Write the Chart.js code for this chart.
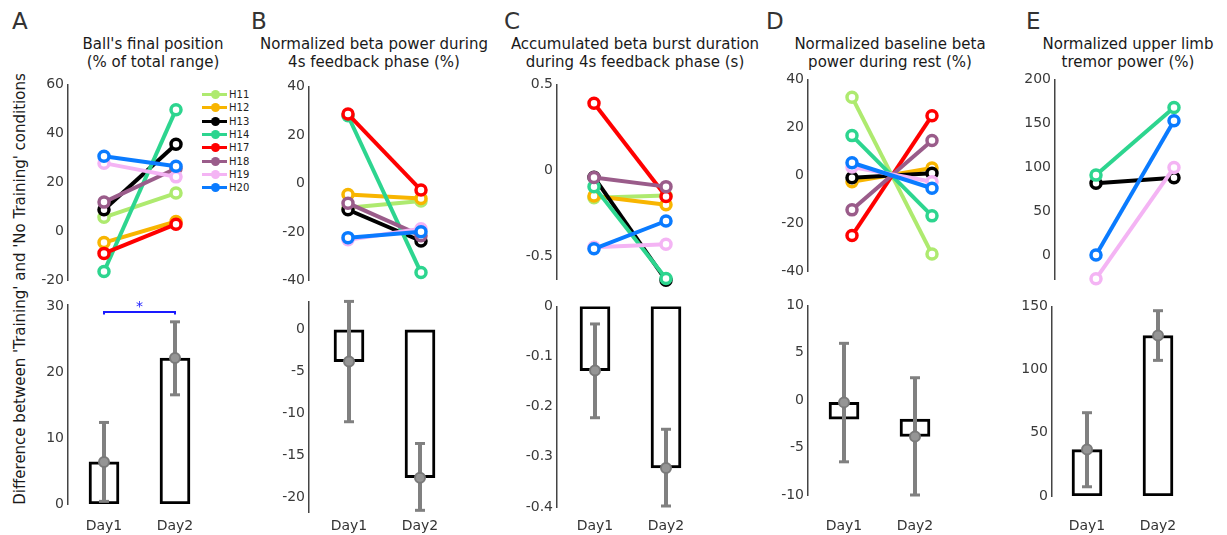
<!DOCTYPE html>
<html>
<head>
<meta charset="utf-8">
<title>Training vs No Training</title>
<script src="https://cdn.jsdelivr.net/npm/chart.js"></script>
<style>
  body { margin: 0; background: #fff; }
  #fig { position: relative; width: 1227px; height: 535px; overflow: hidden; font-family: 'DejaVu Sans', sans-serif; }
  #fig canvas { position: absolute; }
  .letter { position: absolute; font-size: 23px; line-height: 23px; color: #333; }
  .title { position: absolute; width: 300px; margin-left: -150px; text-align: center; white-space: nowrap;
           font-size: 15px; line-height: 18px; color: #1a1a1a; }
  .ylabel { position: absolute; left: 20px; top: 289px; transform: translate(-50%, -50%) rotate(-90deg);
            white-space: nowrap; font-size: 15px; color: #1a1a1a; }
  #legend { position: absolute; left: 202px; top: 88px; font-size: 10px; color: #222; }
  .item { height: 13.3px; display: flex; align-items: center; }
  .swatch { position: relative; width: 25px; height: 3px; margin-right: 2px; }
  .swatch i { position: absolute; left: 9px; top: -3px; width: 9px; height: 9px; border-radius: 50%; }
</style>
</head>
<body>
<div id="fig">
  <div class="letter" style="left:12px;top:10px">A</div>
  <div class="letter" style="left:251px;top:10px">B</div>
  <div class="letter" style="left:504px;top:10px">C</div>
  <div class="letter" style="left:766px;top:10px">D</div>
  <div class="letter" style="left:1026px;top:10px">E</div>

  <div class="title" style="left:153px;top:35px">Ball's final position<br>(% of total range)</div>
  <div class="title" style="left:374px;top:35px">Normalized beta power during<br>4s feedback phase (%)</div>
  <div class="title" style="left:635px;top:35px">Accumulated beta burst duration<br>during 4s feedback phase (s)</div>
  <div class="title" style="left:890px;top:35px">Normalized baseline beta<br>power during rest (%)</div>
  <div class="title" style="left:1128px;top:35px">Normalized upper limb<br>tremor power (%)</div>

  <div class="ylabel">Difference between 'Training' and 'No Training' conditions</div>
  <div id="legend"></div>
</div>

<script>
// subjects and days
const subjects = ['H11', 'H12', 'H13', 'H14', 'H17', 'H18', 'H19', 'H20'];
const subjectColors = ['#aeea6f', '#f8b500', '#000000', '#2dd58f', '#ff0000', '#9a5c8a', '#f4b4f4', '#0a7bff'];
const dayLabels = ['Day1', 'Day2'];

// top row: one value per subject for each day
const ballDay1 = [5.8, -4.5, 8.9, -16.3, -8.9, 12, 27.9, 30.7];
const ballDay2 = [15.7, 4.1, 35.6, 49.7, 3, 25.7, 22.3, 26.6];
const betaDay1 = [-10, -4.5, -10.8, 27.9, 28.6, -8.1, -23.2, -22.3];
const betaDay2 = [-7.2, -6.2, -23.7, -36.7, -2.7, -21.5, -18.6, -19.9];
const burstDay1 = [-0.16, -0.15, -0.04, -0.095, 0.39, -0.042, -0.448, -0.457];
const burstDay2 = [-0.147, -0.2, -0.64, -0.63, -0.152, -0.095, -0.43, -0.295];
const restDay1 = [32.6, -2.6, -0.9, 16.6, -25, -14.3, 3.5, 5.3];
const restDay2 = [-32.7, 3.1, 0.9, -16.8, 24.9, 14.6, -2.6, -5.3];
const tremorDay1 = [null, null, 81.8, 91, null, null, -27, 0];
const tremorDay2 = [null, null, 88, 168, null, null, 99.6, 153];

// bottom row: mean and error bar ends per day
const ballMean = [6.4, 22.2];
const ballLow = [0.4, 16.6];
const ballHigh = [12.4, 27.7];
const betaMean = [-3.8, -17.7];
const betaLow = [-11.0, -21.6];
const betaHigh = [3.4, -13.6];
const burstMean = [-0.128, -0.322];
const burstLow = [-0.222, -0.398];
const burstHigh = [-0.035, -0.245];
const restMean = [-0.23, -3.83];
const restLow = [-6.5, -10.0];
const restHigh = [6.0, 2.37];
const tremorMean = [36.7, 127];
const tremorLow = [7.3, 107.3];
const tremorHigh = [65.9, 146.6];
const restBase = -2.0;
const ballSig = { level: 29.2, label: '*' };

// tick values
const ballTicks = [-20, 0, 20, 40, 60];
const betaTicks = [-40, -20, 0, 20, 40];
const burstTicks = [-0.5, 0, 0.5];
const restTicks = [-40, -20, 0, 20, 40];
const tremorTicks = [0, 50, 100, 150, 200];
const ballDiffTicks = [0, 10, 20, 30];
const betaDiffTicks = [-20, -15, -10, -5, 0];
const burstDiffTicks = [-0.4, -0.3, -0.2, -0.1, 0];
const restDiffTicks = [-10, -5, 0, 5, 10];
const tremorDiffTicks = [0, 50, 100, 150];

const Y_AXIS_W = 50, PAD = 10, X_AXIS_H = 40, LABEL_Y = 525;
const GREY = '#808080';
const fig = document.getElementById('fig');

// legend (panel A)
const legend = document.getElementById('legend');
subjects.forEach((s, i) => {
    const row = document.createElement('div');
    row.className = 'item';
    row.innerHTML = `<span class="swatch" style="background:${subjectColors[i]}"><i style="background:${subjectColors[i]}"></i></span>${s}`;
    legend.appendChild(row);
});

function addCanvas(left, top, width, height) {
    const cv = document.createElement('canvas');
    cv.width = Math.round(width);
    cv.height = Math.round(height);
    cv.style.left = Math.round(left) + 'px';
    cv.style.top = Math.round(top) + 'px';
    fig.appendChild(cv);
    return cv;
}

// x range so that Day1 / Day2 land where they are in the figure
function xRange(lay) {
    const unit = lay.d2 - lay.d1;
    const off = (lay.d1 - lay.axis) / unit;
    return { min: 1 - off, max: 2 + off, width: (1 + 2 * off) * unit };
}

function yAxis(min, max, ticks) {
    return {
        min: min,
        max: max,
        afterFit: s => { s.width = Y_AXIS_W; },
        afterBuildTicks: s => { s.ticks = ticks.map(v => ({ value: v })); },
        grid: { display: false, drawTicks: false },
        border: { display: true, color: '#444', width: 1.5 },
        ticks: { padding: 4, color: '#3a3a3a', font: { family: 'DejaVu Sans', size: 14 }, callback: v => String(v) }
    };
}

function makeTop(lay, day1, day2, yMin, yMax, ticks) {
    const xr = xRange(lay);
    const cv = addCanvas(lay.axis - Y_AXIS_W, lay.top - PAD, Y_AXIS_W + xr.width + PAD, lay.bot - lay.top + 2 * PAD);
    const datasets = [];
    subjects.forEach((name, i) => {
        if (day1[i] === null) return;
        datasets.push({
            label: name,
            data: [{ x: 1, y: day1[i] }, { x: 2, y: day2[i] }],
            borderColor: subjectColors[i],
            borderWidth: 4,
            pointRadius: 5,
            pointBorderWidth: 3.5,
            pointBorderColor: subjectColors[i],
            pointBackgroundColor: '#fff',
            clip: false,
            order: subjects.length - i
        });
    });
    new Chart(cv, {
        type: 'line',
        data: { datasets: datasets },
        options: {
            responsive: false, animation: false, events: [],
            layout: { padding: { top: PAD, bottom: PAD, right: PAD, left: 0 } },
            plugins: { legend: { display: false }, tooltip: { enabled: false } },
            scales: {
                x: { type: 'linear', min: xr.min, max: xr.max, display: false },
                y: yAxis(yMin, yMax, ticks)
            }
        }
    });
}

function makeBottom(lay, mean, low, high, base, yMin, yMax, ticks, sig) {
    const xr = xRange(lay);
    const cv = addCanvas(lay.axis - Y_AXIS_W, lay.top - PAD, Y_AXIS_W + xr.width + PAD, lay.bot - lay.top + PAD + X_AXIS_H);
    const days = [1, 2];
    const datasets = [{
        type: 'bar',
        data: days.map((d, i) => ({ x: d, y: [base, mean[i]] })),
        backgroundColor: '#fff',
        borderColor: '#000',
        borderWidth: 3,
        borderSkipped: false,
        barThickness: 30,
        order: 4
    }];
    days.forEach((d, i) => {
        datasets.push({
            type: 'line',
            data: [{ x: d, y: low[i] }, { x: d, y: high[i] }],
            borderColor: GREY,
            borderWidth: 4,
            pointStyle: 'line',
            pointRadius: 5,
            pointBorderWidth: 3,
            pointBorderColor: GREY,
            clip: false,
            order: 2
        });
    });
    datasets.push({
        type: 'line',
        showLine: false,
        data: days.map((d, i) => ({ x: d, y: mean[i] })),
        pointRadius: 5,
        pointBorderWidth: 2,
        pointBorderColor: '#7a7a7a',
        pointBackgroundColor: '#959595',
        clip: false,
        order: 1
    });
    const plugins = [];
    if (sig) {
        datasets.push({
            type: 'line',
            data: [{ x: 1, y: sig.level - 0.4 }, { x: 1, y: sig.level }, { x: 2, y: sig.level }, { x: 2, y: sig.level - 0.4 }],
            borderColor: '#1a1aff',
            borderWidth: 2,
            pointRadius: 0,
            clip: false,
            order: 0
        });
        plugins.push({
            id: 'sigStar',
            afterDatasetsDraw(chart) {
                const ctx = chart.ctx;
                ctx.save();
                ctx.fillStyle = '#1a1aff';
                ctx.font = '14px "DejaVu Sans"';
                ctx.textAlign = 'center';
                ctx.textBaseline = 'middle';
                ctx.fillText(sig.label, chart.scales.x.getPixelForValue(1.5), chart.scales.y.getPixelForValue(sig.level) - 5);
                ctx.restore();
            }
        });
    }
    new Chart(cv, {
        type: 'bar',
        data: { datasets: datasets },
        options: {
            responsive: false, animation: false, events: [],
            layout: { padding: { top: PAD, bottom: 0, right: PAD, left: 0 } },
            plugins: { legend: { display: false }, tooltip: { enabled: false } },
            scales: {
                x: {
                    type: 'linear', min: xr.min, max: xr.max, offset: false,
                    afterFit: s => { s.height = X_AXIS_H; },
                    afterBuildTicks: s => { s.ticks = days.map(v => ({ value: v })); },
                    grid: { display: false, drawTicks: false },
                    border: { display: false },
                    ticks: { padding: LABEL_Y - 7 - lay.bot, color: '#333', maxRotation: 0,
                             font: { family: 'DejaVu Sans', size: 14 }, callback: v => dayLabels[v - 1] }
                },
                y: yAxis(yMin, yMax, ticks)
            }
        },
        plugins: plugins
    });
}

// panel layout in page pixels: axis line x, Day1 x, Day2 x, axis top y, axis bottom y
makeTop({ axis: 68, d1: 104, d2: 176, top: 82, bot: 283 }, ballDay1, ballDay2, -20, 60, ballTicks);
makeTop({ axis: 309, d1: 348, d2: 421, top: 84, bot: 283 }, betaDay1, betaDay2, -40, 40, betaTicks);
makeTop({ axis: 557, d1: 594, d2: 666, top: 82, bot: 282 }, burstDay1, burstDay2, -0.636, 0.5, burstTicks);
makeTop({ axis: 808, d1: 852, d2: 932, top: 77, bot: 274 }, restDay1, restDay2, -40, 40, restTicks);
makeTop({ axis: 1055, d1: 1096, d2: 1174, top: 77, bot: 282 }, tremorDay1, tremorDay2, -28, 200, tremorTicks);

makeBottom({ axis: 68, d1: 104, d2: 175, top: 302, bot: 504 }, ballMean, ballLow, ballHigh, 0, 0, 30.35, ballDiffTicks, ballSig);
makeBottom({ axis: 309, d1: 349, d2: 420, top: 299, bot: 512 }, betaMean, betaLow, betaHigh, 0, -21.8, 3.4, betaDiffTicks, null);
makeBottom({ axis: 557, d1: 595, d2: 666, top: 304, bot: 507 }, burstMean, burstLow, burstHigh, 0, -0.4, 0, burstDiffTicks, null);
makeBottom({ axis: 808, d1: 844, d2: 915, top: 303, bot: 495 }, restMean, restLow, restHigh, restBase, -10, 10, restDiffTicks, null);
makeBottom({ axis: 1052, d1: 1087, d2: 1158, top: 304, bot: 496 }, tremorMean, tremorLow, tremorHigh, 0, 0, 150, tremorDiffTicks, null);
</script>
</body>
</html>
